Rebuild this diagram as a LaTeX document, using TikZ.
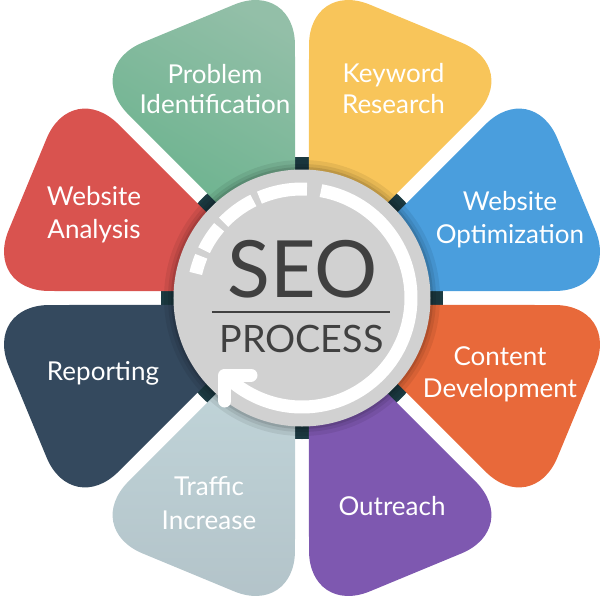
\documentclass[tikz,border=0pt]{standalone}
\usepackage{fontspec}
\setmainfont{Lato}
\definecolor{cgreen}{HTML}{78B697}
\definecolor{cgreenL}{HTML}{93BFA8}
\definecolor{cgreenD}{HTML}{5FAF86}
\definecolor{cyellow}{HTML}{F8C55A}
\definecolor{cblue}{HTML}{4A9EDD}
\definecolor{corange}{HTML}{E8693A}
\definecolor{cpurple}{HTML}{7E58B0}
\definecolor{cpale}{HTML}{BDD1D6}
\definecolor{cpaleL}{HTML}{C4D9DD}
\definecolor{cpaleD}{HTML}{B2C2C8}
\definecolor{cslate}{HTML}{34495E}
\definecolor{cred}{HTML}{D9534F}
\definecolor{chub}{HTML}{D1D1D1}
\definecolor{cring}{HTML}{1B3A41}
\definecolor{ctext}{HTML}{404040}
\tikzset{
  petalshape/.style={rounded corners=66pt},
  lbl/.style={text=white, inner sep=0pt, anchor=base, font=\fontsize{26}{30}\selectfont},
  arcline/.style={draw=white, line width=13pt},
}
\newcommand\mypetal[2]{%
  \path[petalshape, rotate=#1, #2] (18,0) -- (297,115.4) -- (297,-115.4) -- cycle;}
\begin{document}
\begin{tikzpicture}[x=1pt,y=1pt]
\useasboundingbox (-302,-297) rectangle (300,298);
% dark ring visible in the gaps
\fill[cring] (0,0) circle (141);
% petals
\mypetal{22.5}{fill=cblue}
\mypetal{67.5}{fill=cyellow}
\mypetal{112.5}{left color=cgreenL, right color=cgreenD, shading angle=-30}
\mypetal{157.5}{fill=cred}
\mypetal{-157.5}{fill=cslate}
\mypetal{-112.5}{top color=cpaleL, bottom color=cpaleD}
\mypetal{-67.5}{fill=cpurple}
\mypetal{-22.5}{fill=corange}
% soft shadow round the hub
\fill[black, opacity=0.07] (0,0) circle (138);
\fill[black, opacity=0.08] (0,0) circle (134);
\fill[black, opacity=0.10] (0,0) circle (131);
% hub
\node[circle, fill=chub, minimum size=257pt, inner sep=0pt] (hub) at (0,0) {};
% circular arrow
\draw[arcline] (80:109) arc[start angle=80, end angle=-135, radius=109];
\draw[arcline] (87.4:109) arc[start angle=87.4, end angle=113, radius=109];
\draw[arcline] (116.5:109) arc[start angle=116.5, end angle=136, radius=109];
\draw[arcline] (139.5:109) arc[start angle=139.5, end angle=154, radius=109];
\draw[arcline] (157.5:109) arc[start angle=157.5, end angle=167, radius=109];
\coordinate (tip) at (-77,-77);
\coordinate (armA) at (-51,-77);
\coordinate (armB) at (-77,-103);
\draw[arcline, line cap=round, line join=round] (armA) -- (tip) -- (armB);
% hub text
\node[text=ctext, inner sep=0pt, anchor=base, font=\fontsize{79}{79}\selectfont] (seo) at (0.5,1) {SEO};
\coordinate (ruleL) at (-90,-14);
\coordinate (ruleR) at (88,-14);
\draw[ctext, line width=2pt] (ruleL) -- (ruleR);
\node[text=ctext, inner sep=0pt, anchor=base, font=\fontsize{37.7}{40}\selectfont] (process) at (-0.5,-54) {PROCESS};
% petal labels
\node[lbl] (pi1) at (-87,215) {Problem};
\node[lbl] (pi2) at (-87,185) {Identification};
\node[lbl] (kr1) at (91.5,216) {Keyword};
\node[lbl] (kr2) at (91.5,185) {Research};
\node[lbl] (wo1) at (208,88) {Website};
\node[lbl] (wo2) at (208,55) {Optimization};
\node[lbl] (wa1) at (-208,93) {Website};
\node[lbl] (wa2) at (-208,60) {Analysis};
\node[lbl] (rp) at (-199,-82) {Reporting};
\node[lbl] (ti1) at (-93,-197) {Traffic};
\node[lbl] (ti2) at (-93,-231) {Increase};
\node[lbl] (or) at (90,-217) {Outreach};
\node[lbl] (cd1) at (198,-67) {Content};
\node[lbl] (cd2) at (198,-99) {Development};
\end{tikzpicture}
\end{document}
